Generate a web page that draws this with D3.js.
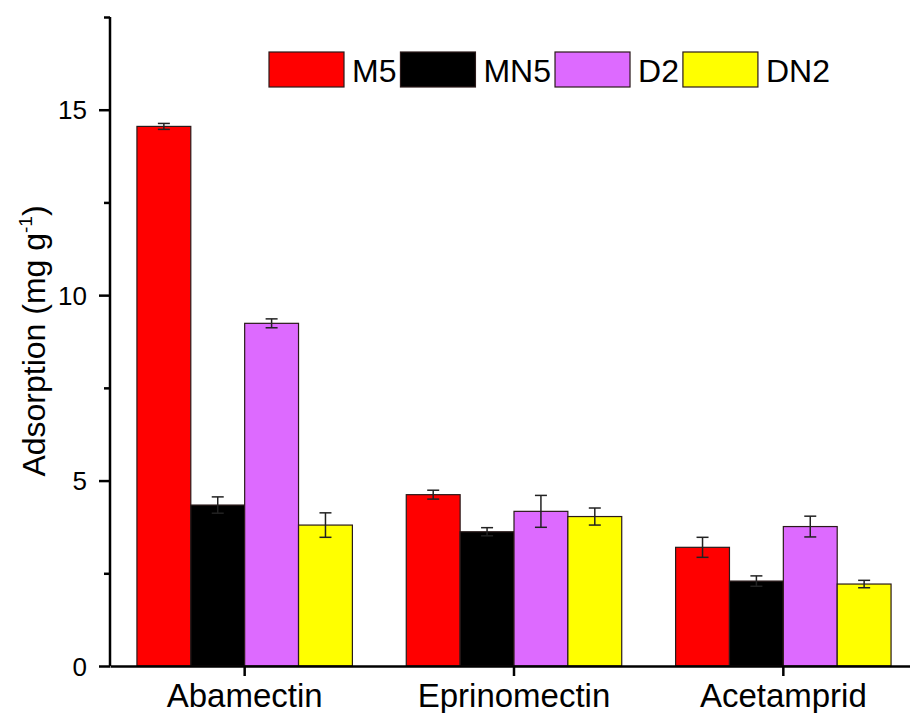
<!doctype html>
<html>
<head>
<meta charset="utf-8"/>
<title>Adsorption</title>
<script src="https://d3js.org/d3.v7.min.js"></script>
<style>
body { margin:0; background:#fff; }
text { font-family: "Liberation Sans", Arial, sans-serif; fill:#000; }
</style>
</head>
<body>
<script type="text/javascript">
// data
var categories = ["Abamectin", "Eprinomectin", "Acetamprid"];
var series = ["M5", "MN5", "D2", "DN2"];
var colors = ["#ff0000", "#000000", "#dd6aff", "#ffff00"];

var M5 = [14.55, 4.62, 3.20];
var M5err = [0.08, 0.12, 0.27];
var MN5 = [4.34, 3.62, 2.29];
var MN5err = [0.22, 0.11, 0.14];
var D2 = [9.24, 4.17, 3.76];
var D2err = [0.12, 0.43, 0.28];
var DN2 = [3.80, 4.03, 2.21];
var DN2err = [0.33, 0.23, 0.10];

var yMajor = [0, 5, 10, 15];
var yMinor = [2.5, 7.5, 12.5, 17.5];

var values = [M5, MN5, D2, DN2];
var errors = [M5err, MN5err, D2err, DN2err];

var rows = [];
for (var s = 0; s < series.length; s++) {
  for (var c = 0; c < categories.length; c++) {
    rows.push({ cat: categories[c], ser: series[s], col: colors[s], v: values[s][c], e: errors[s][c] });
  }
}

var svg = d3.select("body").append("svg")
  .attr("width", 910)
  .attr("height", 713);

// plot area (note: "top" is reserved on window)
var pLeft = 110, pRight = 918, pTop = 17, pBottom = 666;

var y = d3.scaleLinear().domain([0, 17.5]).range([pBottom, pTop]);
var x0 = d3.scaleBand().domain(categories).range([pLeft, pRight]).padding(0);
var gw = x0.bandwidth() * 0.8;
var x1 = d3.scaleBand().domain(series).range([0, gw]).padding(0);

function bx(d) { return x0(d.cat) + (x0.bandwidth() - gw) / 2 + x1(d.ser); }

// bars
svg.append("g").selectAll("rect").data(rows).enter().append("rect")
  .attr("x", bx)
  .attr("y", function(d) { return y(d.v); })
  .attr("width", x1.bandwidth())
  .attr("height", function(d) { return y(0) - y(d.v); })
  .attr("fill", function(d) { return d.col; })
  .attr("stroke", "#2a1a1a")
  .attr("stroke-width", 1.2);

// error bars
var eb = svg.append("g").attr("stroke", "#222").attr("stroke-width", 1.5);
rows.forEach(function(d) {
  var cx = bx(d) + x1.bandwidth() / 2;
  eb.append("line").attr("x1", cx).attr("x2", cx).attr("y1", y(d.v + d.e)).attr("y2", y(d.v - d.e));
  eb.append("line").attr("x1", cx - 6).attr("x2", cx + 6).attr("y1", y(d.v + d.e)).attr("y2", y(d.v + d.e));
  eb.append("line").attr("x1", cx - 6).attr("x2", cx + 6).attr("y1", y(d.v - d.e)).attr("y2", y(d.v - d.e));
});

// y axis
var ya = svg.append("g").attr("transform", "translate(" + pLeft + ",0)")
  .call(d3.axisLeft(y).tickValues(yMajor).tickSize(11).tickPadding(12).tickFormat(d3.format("d")));
svg.append("g").attr("transform", "translate(" + pLeft + ",0)")
  .call(d3.axisLeft(y).tickValues(yMinor).tickSize(6).tickFormat(""))
  .select(".domain").remove();

// x axis
var xa = svg.append("g").attr("transform", "translate(0," + pBottom + ")")
  .call(d3.axisBottom(x0).tickSize(10).tickPadding(5).tickSizeOuter(0));

svg.selectAll(".domain").attr("stroke", "#000").attr("stroke-width", 2.5);
svg.selectAll(".tick line").attr("stroke", "#000").attr("stroke-width", 2.5);
ya.selectAll("text").style("font-size", "26px").attr("dy", "0.35em");
xa.selectAll("text").style("font-size", "33px").attr("dy", "0.8em");
ya.select(".domain").attr("d", "M0," + y(17.5) + "V" + y(0));

// axis title
var title = svg.append("text")
  .attr("transform", "translate(45,341) rotate(-90)")
  .attr("text-anchor", "middle")
  .style("font-size", "32px");
title.append("tspan").text("Adsorption (mg g");
title.append("tspan").text("-1").attr("dy", "-13").style("font-size", "19px");
title.append("tspan").text(")").attr("dy", "13");

// legend
var lx = 269;
for (var i = 0; i < series.length; i++) {
  svg.append("rect")
    .attr("x", lx).attr("y", 52)
    .attr("width", 75).attr("height", 35)
    .attr("fill", colors[i])
    .attr("stroke", "#2a1a1a").attr("stroke-width", 1.2);
  var t = svg.append("text")
    .attr("x", lx + 83).attr("y", 82)
    .style("font-size", "32px")
    .text(series[i]);
  lx = lx + 83 + t.node().getComputedTextLength() + 4;
}
</script>
</body>
</html>
